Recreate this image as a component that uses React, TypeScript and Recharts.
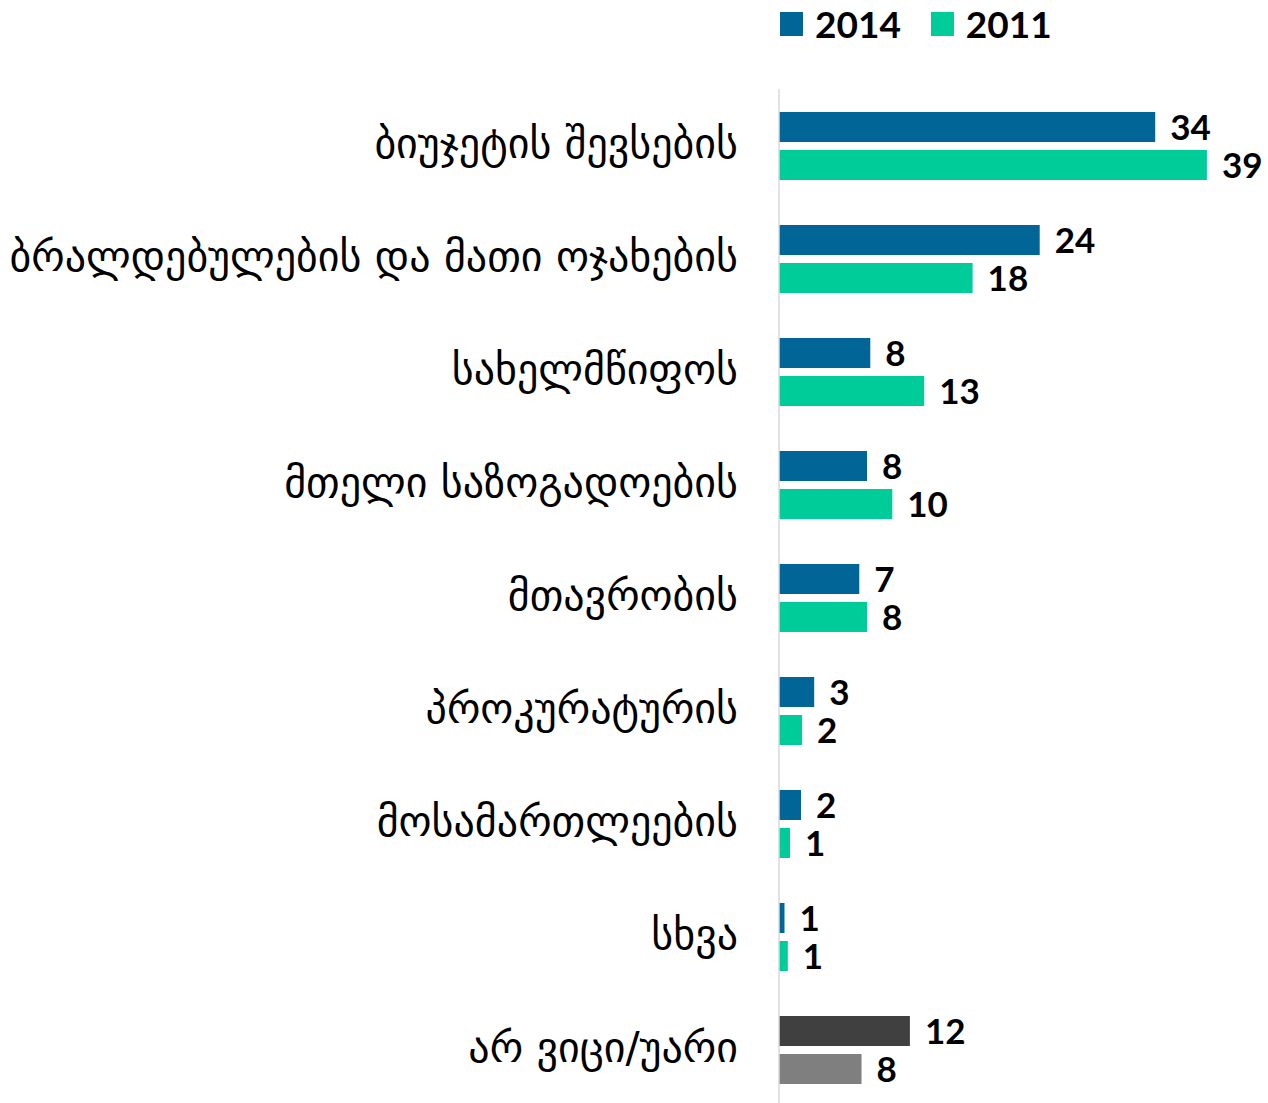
import React from 'react';
import { BarChart, Bar, XAxis, YAxis, Cell, LabelList } from 'recharts';

const categories = [
  'ბიუჯეტის შევსების',
  'ბრალდებულების და მათი ოჯახების',
  'სახელმწიფოს',
  'მთელი საზოგადოების',
  'მთავრობის',
  'პროკურატურის',
  'მოსამართლეების',
  'სხვა',
  'არ ვიცი/უარი',
];
const values2014 = [34.2, 23.7, 8.3, 8.0, 7.3, 3.2, 2.0, 0.5, 11.9];
const values2011 = [38.9, 17.6, 13.2, 10.3, 8.0, 2.1, 1.0, 0.8, 7.5];
const seriesNames = ['2014', '2011'];
const seriesColors = ['#026597', '#00CC99'];
const otherColors = ['#404040', '#7F7F7F'];
const otherCategory = 'არ ვიცი/უარი';

const data = categories.map((c, i) => ({ name: c, v2014: values2014[i], v2011: values2011[i] }));

const GEO_FONT = '"DejaVu Sans", sans-serif';
const NUM_FONT = 'Lato, "Open Sans", sans-serif';

const CategoryTick = (props: any) => {
  const { x, y, payload } = props;
  return (
    <text x={x} y={y} dy="0.3em" textAnchor="end" fontFamily={GEO_FONT} fontSize={42} fill="#000">
      {payload.value}
    </text>
  );
};

const renderLabel = (props: any) => {
  const { x, y, width, height, value } = props;
  return (
    <text
      x={x + width + 15}
      y={y + height / 2}
      dy="0.36em"
      textAnchor="start"
      fontFamily={NUM_FONT}
      fontWeight={700}
      fontSize={35}
      fill="#000"
    >
      {Math.round(value)}
    </text>
  );
};

export default function App() {
  return (
    <div style={{ position: 'absolute', left: 0, top: 0, width: 1268, height: 1103, overflow: 'hidden', background: '#fff' }}>
      <div style={{ position: 'absolute', left: 780, top: 1, display: 'flex', alignItems: 'center', fontFamily: NUM_FONT, fontWeight: 700, fontSize: 37, color: '#000' }}>
        {seriesNames.map((n, i) => (
          <div key={n} style={{ display: 'flex', alignItems: 'center', marginRight: 30 }}>
            <div style={{ width: 23, height: 24, background: seriesColors[i], marginRight: 12 }} />
            <span>{n}</span>
          </div>
        ))}
      </div>
      <div style={{ position: 'absolute', left: 0, top: 0 }}>
        <BarChart
          width={1268}
          height={1106}
          data={data}
          layout="vertical"
          margin={{ top: 89, right: 5, bottom: 0, left: 0 }}
          barSize={30}
          barGap={8}
        >
          <XAxis type="number" hide domain={[0, 44]} />
          <YAxis
            type="category"
            dataKey="name"
            width={779}
            tickSize={0}
            tickMargin={41}
            tickLine={false}
            axisLine={{ stroke: '#D9D9D9', strokeWidth: 1.5 }}
            tick={<CategoryTick />}
            interval={0}
          />
          <Bar dataKey="v2014" name={seriesNames[0]} fill={seriesColors[0]} isAnimationActive={false}>
            {data.map((d) => (
              <Cell key={d.name} fill={d.name === otherCategory ? otherColors[0] : seriesColors[0]} />
            ))}
            <LabelList dataKey="v2014" content={renderLabel} />
          </Bar>
          <Bar dataKey="v2011" name={seriesNames[1]} fill={seriesColors[1]} isAnimationActive={false}>
            {data.map((d) => (
              <Cell key={d.name} fill={d.name === otherCategory ? otherColors[1] : seriesColors[1]} />
            ))}
            <LabelList dataKey="v2011" content={renderLabel} />
          </Bar>
        </BarChart>
      </div>
    </div>
  );
}
